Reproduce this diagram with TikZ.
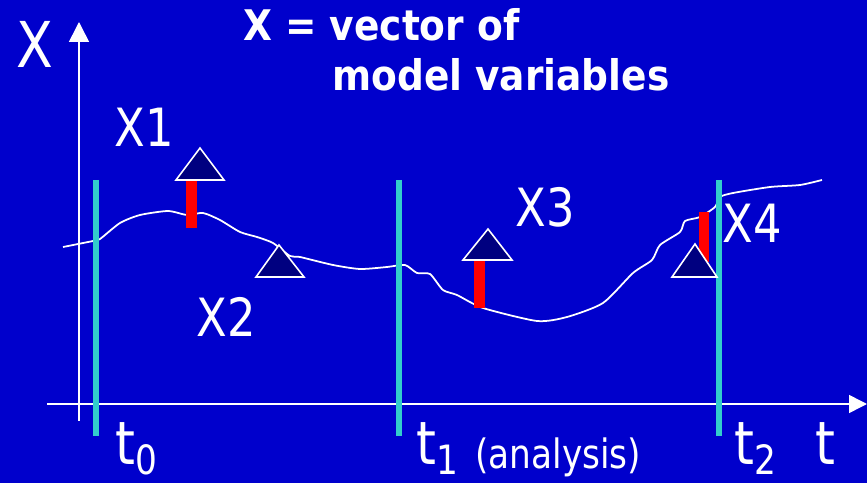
\documentclass[tikz,border=0pt]{standalone}
\usepackage{fontspec}
\setmainfont{DejaVu Sans}[FakeStretch=0.85,BoldFeatures={FakeStretch=0.89}]
\usetikzlibrary{arrows.meta}
\definecolor{slideblue}{HTML}{0000CC}
\definecolor{timecyan}{HTML}{33CCCC}
\definecolor{obsnavy}{HTML}{000080}
\newcommand{\tsub}[1]{t\raisebox{-6pt}{\fontsize{23}{23}\selectfont #1}}

\begin{document}
\begin{tikzpicture}[x=0.02cm, y=-0.02cm,
	every node/.style={text=white, inner sep=0pt, anchor=base west},
	>={Triangle[length=4mm, width=4mm]},
	biglbl/.style={font=\fontsize{36}{36}\selectfont},
	obslbl/.style={font=\fontsize{30}{30}\selectfont},
	timelbl/.style={font=\fontsize{34}{34}\selectfont},
	obs/.style={fill=obsnavy, draw=white, line width=0.9pt, line join=miter},
	timeline/.style={timecyan, line width=3pt},
	incr/.style={fill=red}]
	\useasboundingbox (0,0) rectangle (867,483);
	\fill[slideblue] (0,0) rectangle (867,483);
	% axes
	\coordinate (ybot) at (79,421);
	\coordinate (ytop) at (79,22);
	\coordinate (xleft) at (47,404);
	\coordinate (xright) at (867,404);
	\draw[->, white, line width=0.9pt] (ybot) -- (ytop);
	\draw[->, white, line width=0.9pt, >={Triangle[length=3.6mm, width=3.6mm]}] (xleft) -- (xright);
	% model trajectory
	\draw[white, line width=1pt] plot[smooth, tension=0.4] coordinates {(63,247) (93,241) (100,239) (120,223) (140,215) (168,211) (187,215) (203,213) (220,220) (240,232) (257,237) (273,243) (290,256) (300,257) (333,265) (360,269) (387,267) (405,265) (417,273) (430,274) (443,290) (457,295) (483,308) (537,321) (567,317) (603,303) (633,273) (652,260) (660,245) (680,232) (685,221) (700,217) (715,207) (720,197) (733,193) (770,187) (800,185) (822,180)};
	% analysis times
	\draw[timeline] (96,180) -- (96,436);
	\draw[timeline] (399,180) -- (399,436);
	\draw[timeline] (719,180) -- (719,436);
	% increments and observations
	\fill[incr] (186,180) rectangle (197,228);
	\fill[incr] (474,260) rectangle (485,308);
	\fill[incr] (699,212) rectangle (709,262);
	\draw[obs] (176,180) -- (200,148) -- (224,180) -- cycle;
	\draw[obs] (256,277) -- (279,245) -- (304,277) -- cycle;
	\draw[obs] (463,260) -- (488,229) -- (512,260) -- cycle;
	\draw[obs] (672,277) -- (695,244) -- (717,277) -- cycle;
	% labels
	\node[biglbl] (xname) at (16,68) {X};
	\node[font=\bfseries\fontsize{24}{24}\selectfont] (title1) at (243,41) {X = vector of};
	\node[font=\bfseries\fontsize{24}{24}\selectfont] (title2) at (332,91) {model variables};
	\node[obslbl] (x1) at (114,147) {X1};
	\node[obslbl] (x2) at (196,337) {X2};
	\node[obslbl] (x3) at (515,227) {X3};
	\node[obslbl] (x4) at (722,243) {X4};
	\node[timelbl] (t0) at (115,464) {\tsub{0}};
	\node[timelbl] (t1) at (416,464) {\tsub{1}};
	\node[font=\fontsize{23}{23}\selectfont] (anl) at (475,469) {(analysis)};
	\node[timelbl] (t2) at (734,464) {\tsub{2}};
	\node[timelbl] (tax) at (815,464) {t};
\end{tikzpicture}
\end{document}
